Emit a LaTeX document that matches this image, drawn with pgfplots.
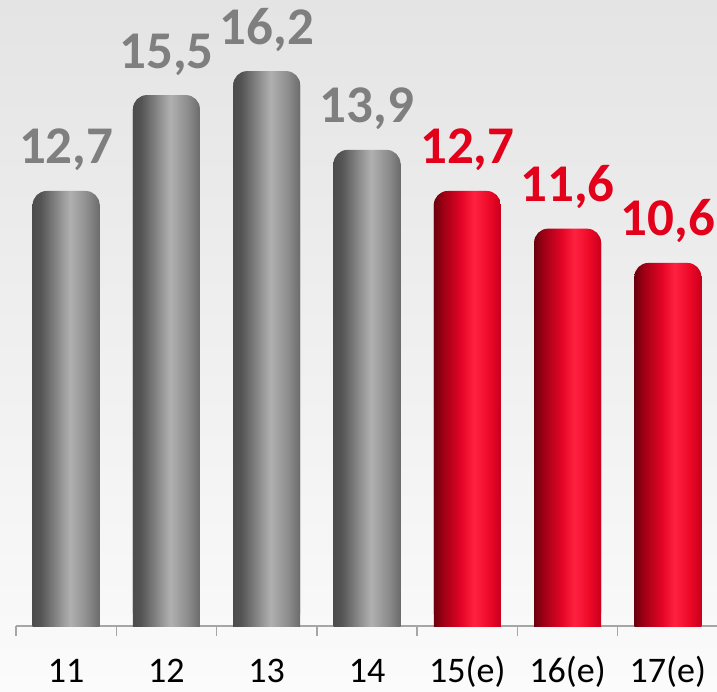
\documentclass[border=0pt]{standalone}
\usepackage{pgfplots}
\pgfplotsset{compat=1.18}
\usepackage{fontspec}
\setmainfont{Carlito}

\definecolor{lblgray}{HTML}{7F7F7F}
\definecolor{lblred}{HTML}{E2001A}
\definecolor{axisgray}{HTML}{A6A6A6}
\definecolor{bgtop}{HTML}{E4E4E4}
\definecolor{bgbot}{HTML}{FBFBFB}

% cylinder look: dark left edge, highlight a bit right of centre
\pgfdeclarehorizontalshading{graybar}{100bp}{%
  rgb(0bp)=(0.30,0.30,0.30); rgb(25bp)=(0.30,0.30,0.30);
  rgb(31bp)=(0.33,0.33,0.33); rgb(46bp)=(0.58,0.58,0.58);
  rgb(53bp)=(0.69,0.69,0.69); rgb(66bp)=(0.55,0.55,0.55);
  rgb(75bp)=(0.42,0.42,0.42); rgb(100bp)=(0.42,0.42,0.42)}
\pgfdeclarehorizontalshading{redbar}{100bp}{%
  rgb(0bp)=(0.42,0.00,0.05); rgb(25bp)=(0.42,0.00,0.05);
  rgb(32bp)=(0.62,0.00,0.08); rgb(46bp)=(0.90,0.02,0.15);
  rgb(55bp)=(1.00,0.13,0.25); rgb(67bp)=(0.92,0.03,0.15);
  rgb(75bp)=(0.78,0.00,0.11); rgb(100bp)=(0.78,0.00,0.11)}

\pgfplotsset{
    valnum/.style={
        nodes near coords={\pgfmathprintnumber[fixed,fixed zerofill,precision=1,use comma,assume math mode=true]{\pgfplotspointmeta}},
        every node near coord/.append style={font=\fontsize{53}{53}\selectfont\bfseries, text=#1, anchor=base, yshift=27pt}},
    % each bar is its own plot so the shading fits that bar only;
    % the rounded copy gives the top, the shifted square copy hides the rounded base
    gtop/.style={draw=none, shading=graybar, rounded corners=14pt, /pgf/bar shift=0pt, valnum=lblgray},
    gbase/.style={draw=none, shading=graybar, /pgf/bar shift=0pt, yshift=-14pt},
    rtop/.style={draw=none, shading=redbar, rounded corners=14pt, /pgf/bar shift=0pt, valnum=lblred},
    rbase/.style={draw=none, shading=redbar, /pgf/bar shift=0pt, yshift=-14pt},
}

\begin{document}
\begin{tikzpicture}
\useasboundingbox (0,0) rectangle (717pt,691pt);
\fill[top color=bgtop, bottom color=bgbot] (0,0) rectangle (717pt,691pt);
\begin{axis}[
    at={(16pt,65pt)}, anchor=south west,
    scale only axis,
    width=702pt, height=623.4pt,
    xmin=-0.5, xmax=6.5,
    ymin=0, ymax=18.2,
    axis x line*=bottom,
    axis y line=none,
    x axis line style={axisgray, line width=2pt},
    xtick={0,...,6},
    xticklabels={11,12,13,14,15(e),16(e),17(e)},
    major tick length=0pt,
    minor xtick={-0.5,0.5,...,5.5},
    minor tick length=10pt,
    tick align=outside,
    minor x tick style={axisgray, line width=1.5pt},
    xticklabel style={font=\fontsize{36}{36}\selectfont, inner sep=0pt, anchor=base, yshift=-56pt},
    ybar, bar width=67pt,
    clip=true,
]
\addplot[gbase] coordinates {(0,12.7)};
\addplot[gtop]  coordinates {(0,12.7)};
\addplot[gbase] coordinates {(1,15.5)};
\addplot[gtop]  coordinates {(1,15.5)};
\addplot[gbase] coordinates {(2,16.2)};
\addplot[gtop]  coordinates {(2,16.2)};
\addplot[gbase] coordinates {(3,13.9)};
\addplot[gtop]  coordinates {(3,13.9)};

\addplot[rbase] coordinates {(4,12.7)};
\addplot[rtop]  coordinates {(4,12.7)};
\addplot[rbase] coordinates {(5,11.6)};
\addplot[rtop]  coordinates {(5,11.6)};
\addplot[rbase] coordinates {(6,10.6)};
\addplot[rtop]  coordinates {(6,10.6)};
\end{axis}
\end{tikzpicture}
\end{document}
